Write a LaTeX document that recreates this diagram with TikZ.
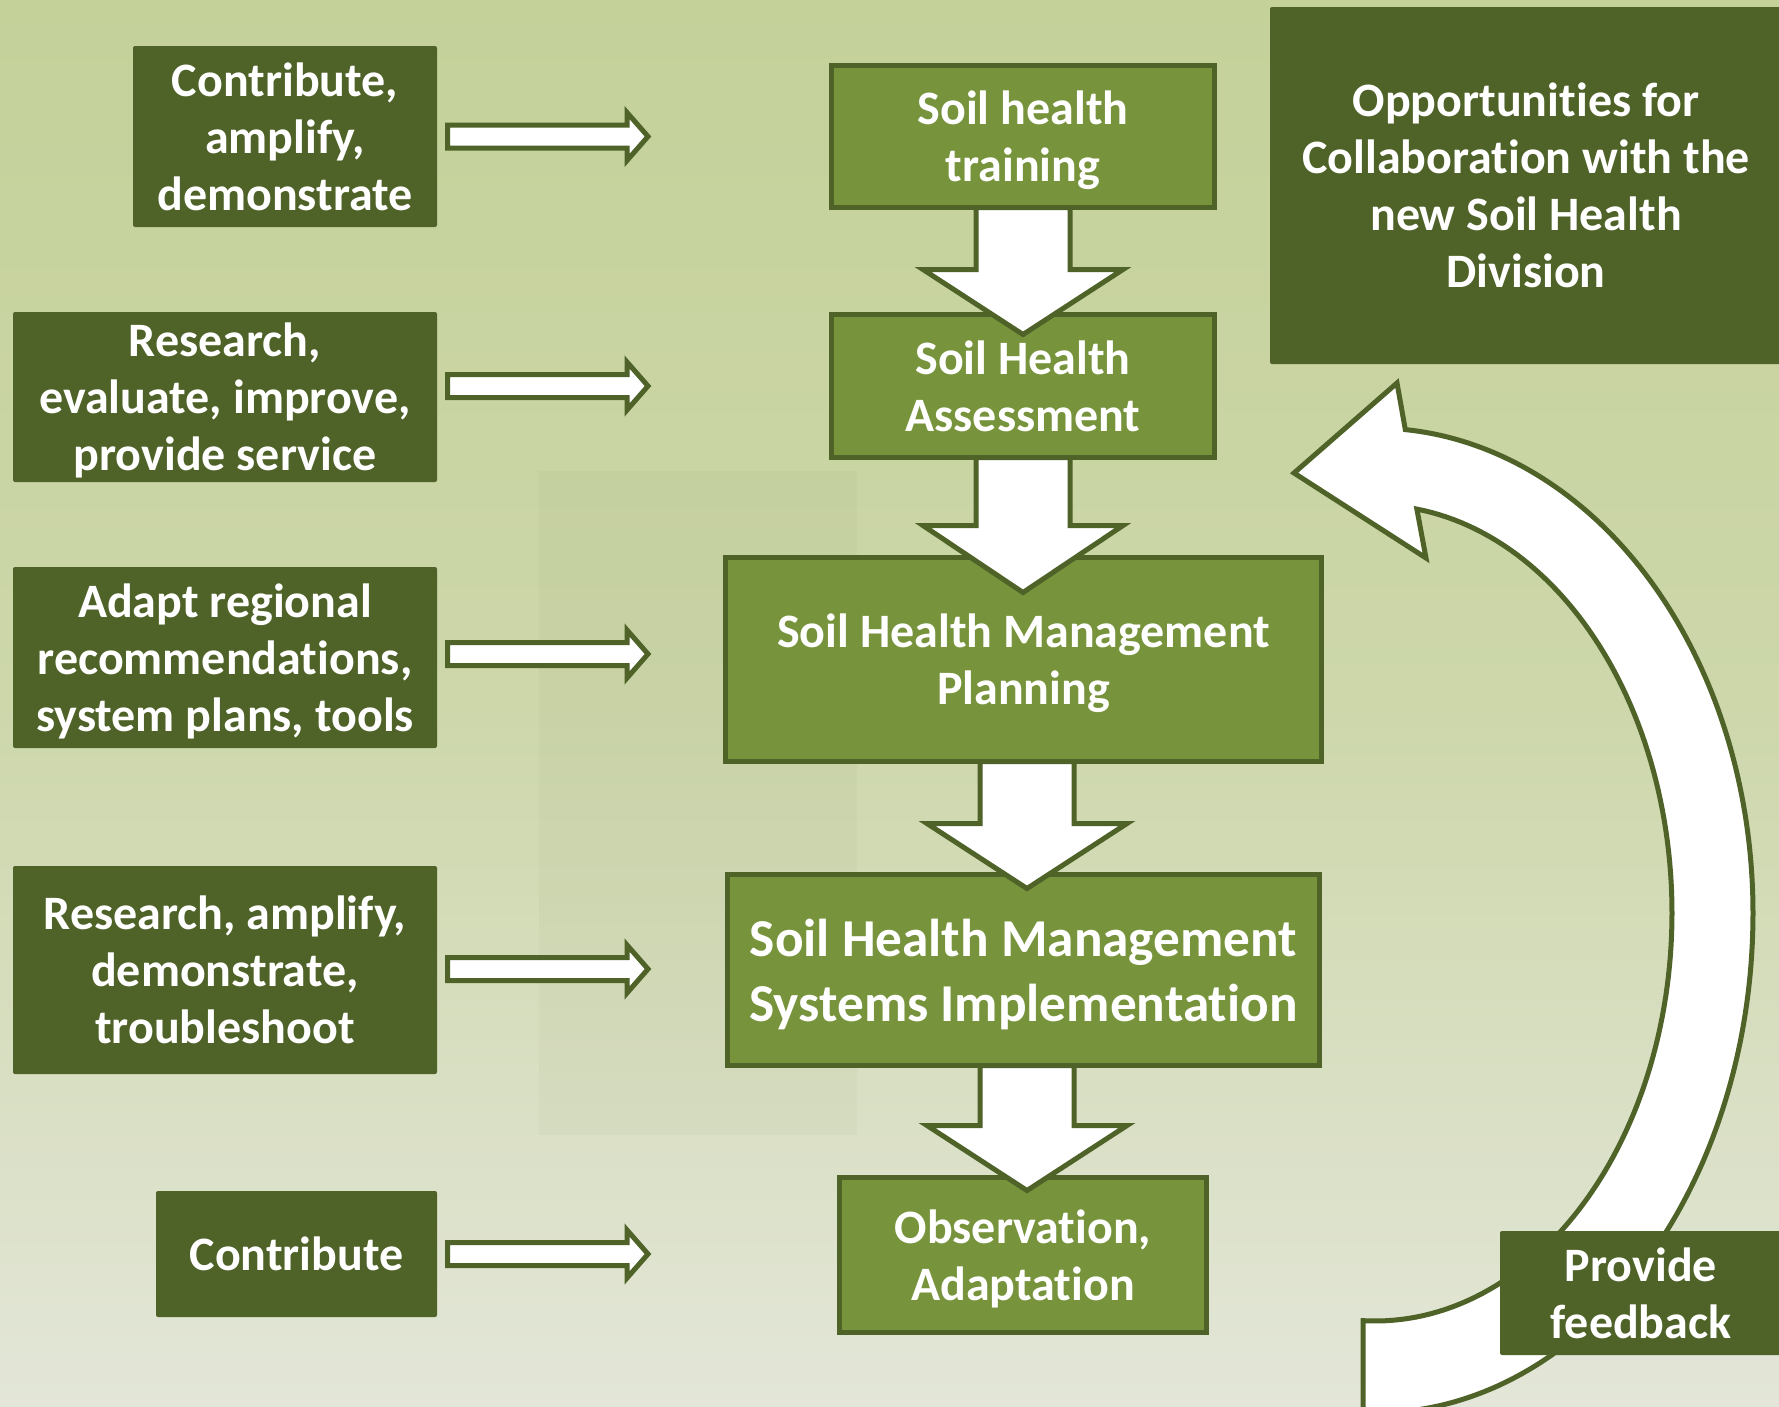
\documentclass[tikz,border=0pt]{standalone}
\usepackage{fontspec}
\setmainfont{Carlito}[Ligatures=NoCommon]
\usetikzlibrary{calc}
\definecolor{dk}{HTML}{4F6228}
\definecolor{md}{HTML}{77933C}
\definecolor{bgtop}{RGB}{196,209,153}
\definecolor{bgmid}{RGB}{205,215,170}
\definecolor{bgbot}{RGB}{227,230,216}
\newcommand\rtarrow[3]{%
  \draw[blockarr] let \p1=(#1.east), \p2=(#2.west) in
    (\x1+10.5pt,\y2+#3pt-11.5pt) -- (\x1+190pt,\y2+#3pt-11.5pt) -- (\x1+190pt,\y2+#3pt-24pt)
    -- (\x1+211pt,\y2+#3pt) -- (\x1+190pt,\y2+#3pt+24pt) -- (\x1+190pt,\y2+#3pt+11.5pt)
    -- (\x1+10.5pt,\y2+#3pt+11.5pt) -- cycle;}
\newcommand\dnarrow[5]{%
  \draw[blockarr] let \p1=(#1.south), \p2=(#2.north) in
    (\x1+#3pt-47pt,\y1) -- (\x1+#3pt-47pt,\y2-#4pt+#5pt) -- (\x1+#3pt-100pt,\y2-#4pt+#5pt)
    -- (\x1+#3pt,\y2-#4pt) -- (\x1+#3pt+100pt,\y2-#4pt+#5pt) -- (\x1+#3pt+47pt,\y2-#4pt+#5pt)
    -- (\x1+#3pt+47pt,\y1) -- cycle;}
\begin{document}
\begin{tikzpicture}[x=1pt,y=-1pt,
  txt/.style={text=white, align=center, inner sep=0pt, outer sep=0pt, text depth=0pt,
    font=\fontsize{48}{57}\selectfont\bfseries},
  lbox/.style={txt, fill=dk, rounded corners=2pt},
  cbox/.style={txt, fill=md, draw=dk, line width=5pt},
  blockarr/.style={fill=white, draw=dk, line width=5pt, line join=miter}]
\useasboundingbox (0,0) rectangle (1779,1406);
\clip (0,0) rectangle (1779,1406);
% background
\fill[top color=bgtop, bottom color=bgbot, middle color=bgmid] (0,0) rectangle (1779,1406);
\fill[dk, opacity=0.035] (539,471) rectangle (857,1135);

% centre column
\node[cbox, minimum width=383pt, minimum height=142pt] (C1) at (1023,136.5) {Soil health\\training};
\node[cbox, minimum width=383pt, minimum height=143pt] (C2) at (1023,386) {Soil Health\\Assessment};
\node[cbox, minimum width=596pt, minimum height=204pt] (C3) at (1023.5,659.5) {Soil Health Management\\Planning};
\node[cbox, minimum width=592pt, minimum height=191pt, font=\fontsize{53.3}{65}\selectfont\bfseries] (C4) at (1023.5,970) {Soil Health Management\\Systems Implementation};
\node[cbox, minimum width=367pt, minimum height=155pt] (C5) at (1023,1255) {Observation,\\Adaptation};

\dnarrow{C1}{C2}{0}{20}{65}
\dnarrow{C2}{C3}{0}{35}{67}
\dnarrow{C3}{C4}{3.5}{14}{65}
\dnarrow{C4}{C5}{3.5}{13}{65}

% left column
\node[lbox, minimum width=304pt, minimum height=181pt] (L1) at (285,136.5) {Contribute,\\amplify,\\demonstrate};
\node[lbox, minimum width=424pt, minimum height=170pt] (L2) at (225,397) {Research,\\evaluate, improve,\\provide service};
\node[lbox, minimum width=424pt, minimum height=181pt] (L3) at (225,657.5) {Adapt regional\\recommendations,\\system plans, tools};
\node[lbox, minimum width=424pt, minimum height=208pt] (L4) at (225,970) {Research, amplify,\\demonstrate,\\troubleshoot};
\node[lbox, minimum width=281pt, minimum height=126pt] (L5) at (296.5,1254) {Contribute};

\rtarrow{L1}{C1}{0}
\rtarrow{L2}{C2}{0}
\rtarrow{L3}{C3}{5.5}
\rtarrow{L4}{C4}{1}
\rtarrow{L5}{C5}{1}

% right side
\node[lbox, minimum width=512pt, minimum height=357pt] (T) at (1526,185.5) {Opportunities for\\Collaboration with the\\new Soil Health\\Division};

\draw[blockarr]
  plot[domain=-85.4:0, samples=80, variable=\t] ({1375+378*cos(\t)},{913+485*sin(\t)})
  -- plot[domain=0:91.8, samples=80, variable=\t] ({1375+378*cos(\t)},{913+500*sin(\t)})
  -- plot[domain=92.3:-81.9, samples=120, variable=\t] ({1375+297*cos(\t)},{913+408*sin(\t)})
  -- (1426,558) -- (1294,473) -- (1397,383) -- cycle;

\node[lbox, minimum width=282pt, minimum height=124pt] (F) at (1641,1293) {Provide\\feedback};
\end{tikzpicture}
\end{document}
